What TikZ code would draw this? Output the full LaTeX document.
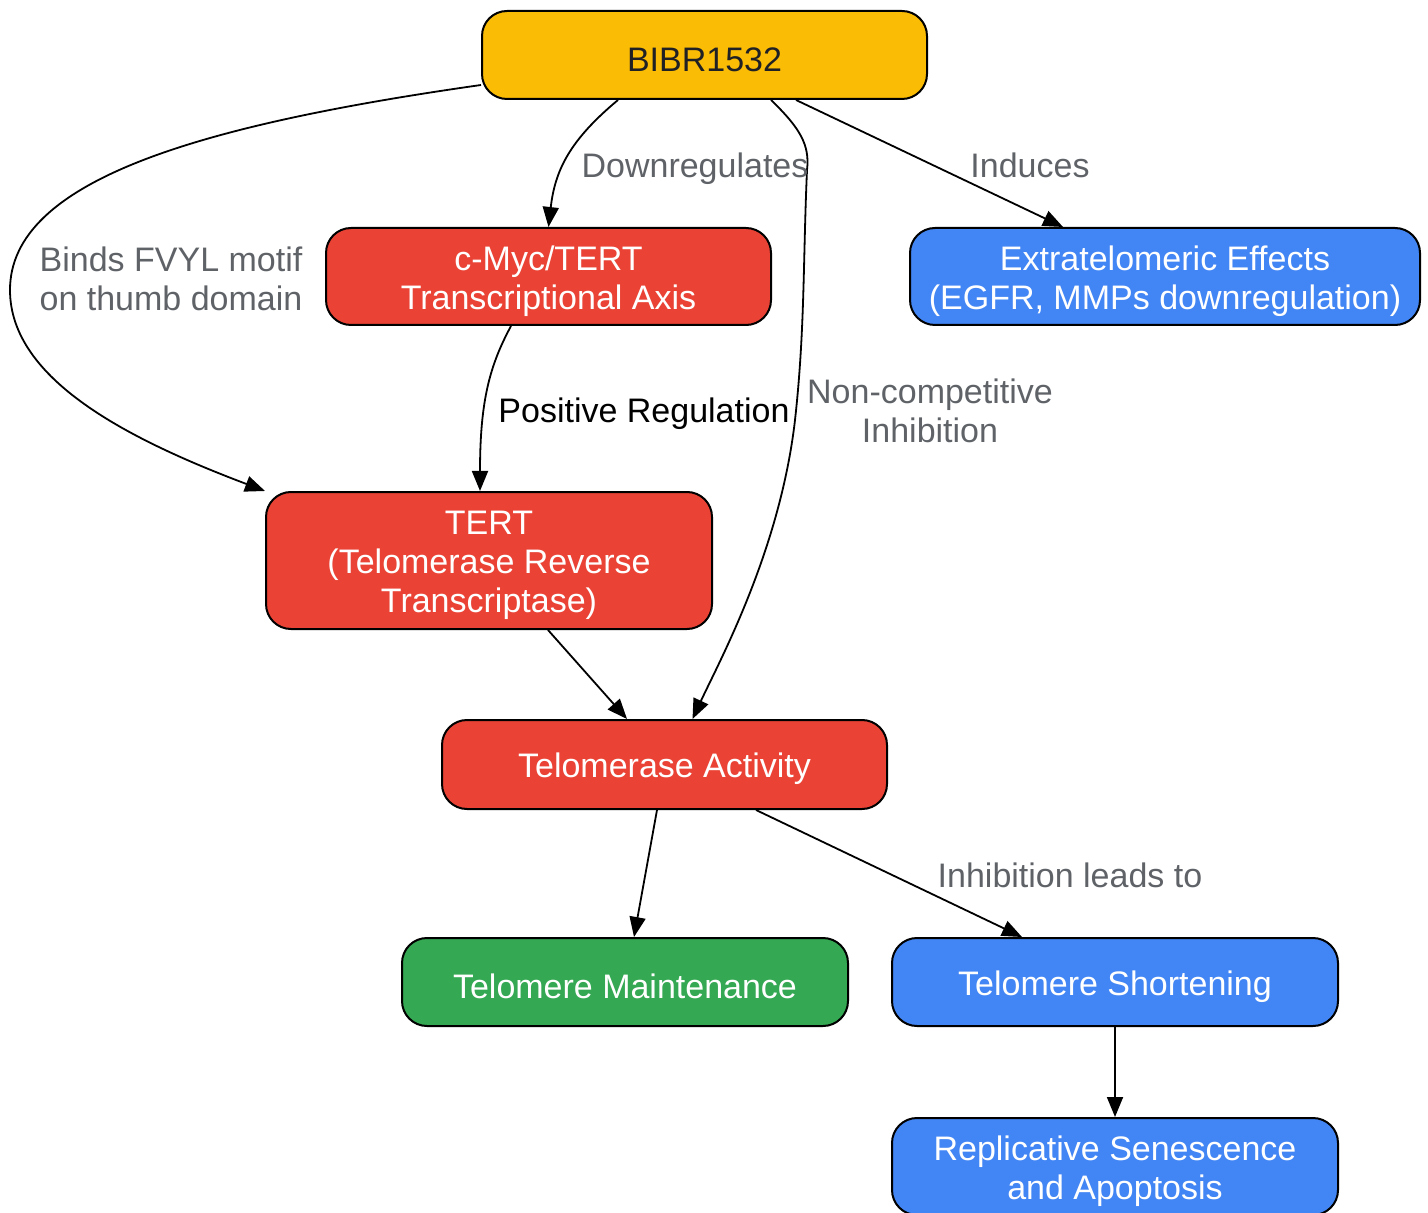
\documentclass[tikz,border=0pt]{standalone}
\usepackage{fontspec}
\setmainfont{Liberation Sans}
\usetikzlibrary{arrows.meta,calc}
\definecolor{gold}{HTML}{FBBC05}
\definecolor{gred}{HTML}{EA4335}
\definecolor{gblue}{HTML}{4285F4}
\definecolor{ggreen}{HTML}{34A853}
\definecolor{lbl}{HTML}{5F6368}
\definecolor{dark}{HTML}{202124}
\newcommand\tstrut{\rule{0pt}{17pt}}
\begin{document}
\begin{tikzpicture}[x=0.5pt,y=-0.5pt,
  box/.style={draw=black, line width=1pt, rounded corners=12.5pt, align=center,
    font=\fontsize{17}{19.5}\selectfont, inner sep=0pt, text=white},
  goldbox/.style={box, fill=gold, text=dark},
  redbox/.style={box, fill=gred},
  bluebox/.style={box, fill=gblue},
  greenbox/.style={box, fill=ggreen},
  edge/.style={draw=black, line width=0.9pt, -{Triangle[length=10pt,width=8pt]}},
  elabel/.style={align=center, font=\fontsize{17}{19.5}\selectfont, text=lbl, inner sep=0pt}
]
\useasboundingbox (0,0) rectangle (1428,1213);

\node[goldbox, minimum width=222.5pt, minimum height=44pt] (bibr) at (704.5,55) {\tstrut BIBR1532};
\node[redbox, minimum width=222.5pt, minimum height=48.5pt] (cmyc) at (548.5,276.5) {\tstrut c-Myc/TERT\\Transcriptional Axis};
\node[bluebox, minimum width=255pt, minimum height=48.5pt] (ext) at (1165,276.5) {\tstrut Extratelomeric Effects\\(EGFR, MMPs downregulation)};
\node[redbox, minimum width=223pt, minimum height=68.5pt] (tert) at (489,560.5) {\tstrut TERT\\(Telomerase Reverse\\Transcriptase)};
\node[redbox, minimum width=222.5pt, minimum height=44.5pt] (ta) at (664.5,764.5) {\tstrut Telomerase Activity};
\node[greenbox, minimum width=223pt, minimum height=44pt] (main) at (625,982) {\tstrut Telomere Maintenance};
\node[bluebox, minimum width=223pt, minimum height=44pt] (short) at (1115,982) {\tstrut Telomere Shortening};
\node[bluebox, minimum width=223pt, minimum height=48.5pt] (rep) at (1115,1166.5) {\tstrut Replicative Senescence\\and Apoptosis};

% edges
\draw[edge] (bibr.west |- 0,85) .. controls (200,125) and (10,180) .. (10,290)
  .. controls (10,380) and (130,440) .. (tert.north west);
\draw[edge] ($(bibr.south)+(-86.5,0)$) .. controls (570,140) and (555,170) .. (cmyc.north);
\draw[edge] ($(bibr.south)+(66.5,0)$) .. controls (800,128) and (810,145) .. (807,170)
  .. controls (803,260) and (805,330) .. (795,420)
  .. controls (780,550) and (720,660) .. ($(ta.north)+(28,0)$);
\draw[edge] ($(bibr.south)+(91.5,0)$) -- ($(ext.north)+(-102,0)$);
\draw[edge] ($(cmyc.south)+(-37.5,0)$) .. controls (490,365) and (480,400) .. ($(tert.north)+(-9,0)$);
\draw[edge] ($(tert.south)+(59,0)$) -- ($(ta.north)+(-37.5,0)$);
\draw[edge] ($(ta.south)+(-7.5,0)$) -- ($(main.north)+(9,0)$);
\draw[edge] ($(ta.south)+(91.5,0)$) -- ($(short.north)+(-93,0)$);
\draw[edge] (short.south) -- (rep.north);

% labels
\node[elabel] (l1) at (171,279) {Binds FVYL motif\\on thumb domain};
\node[elabel] (l2) at (695,169) {Downregulates};
\node[elabel] (l3) at (930,411) {Non-competitive\\Inhibition};
\node[elabel] (l4) at (1030,165) {Induces};
\node[elabel, text=black] (l5) at (644,414) {Positive Regulation};
\node[elabel] (l6) at (1070,875) {Inhibition leads to};
\end{tikzpicture}
\end{document}
